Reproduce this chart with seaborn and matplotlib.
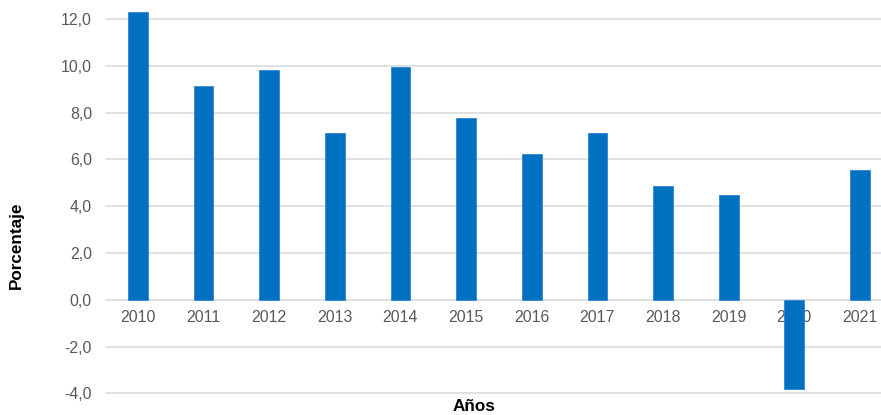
import matplotlib
matplotlib.use("Agg")
import matplotlib.pyplot as plt
import seaborn as sns
import pandas as pd

# Annual growth rate (%) by year
years = ["2010", "2011", "2012", "2013", "2014", "2015",
         "2016", "2017", "2018", "2019", "2020", "2021"]
growth = [12.3, 9.15, 9.81, 7.15, 9.97, 7.77, 6.25, 7.13, 4.87, 4.49, -3.83, 5.55]
y_ticks = [-4, -2, 0, 2, 4, 6, 8, 10, 12]
y_tick_labels = ["-4,0", "-2,0", "0,0", "2,0", "4,0", "6,0", "8,0", "10,0", "12,0"]

df = pd.DataFrame({"Año": years, "Porcentaje": growth})

sns.set_theme(style="white")
plt.rcParams["font.family"] = ["Liberation Sans", "DejaVu Sans"]

W, H, DPI = 881, 415, 100
fig = plt.figure(figsize=(W / DPI, H / DPI), dpi=DPI)
ax = fig.add_axes([105 / W, 0.0, 1 - 105 / W, 1.0])

sns.barplot(data=df, x="Año", y="Porcentaje", color="#0070C0",
            width=0.3, saturation=1, edgecolor="#2E86D1", linewidth=0.6, ax=ax)

ax.set_xlim(-0.5, 11.32)
ax.set_ylim(-4.928, 12.817)
ax.set_yticks(y_ticks)
ax.set_yticklabels(y_tick_labels)
ax.yaxis.grid(True, color="#D9D9D9", linewidth=1.1)
ax.xaxis.grid(False)
ax.set_axisbelow(True)

for s in ax.spines.values():
    s.set_visible(False)
ax.spines["bottom"].set_position(("data", 0))

ax.tick_params(axis="x", length=0, pad=7.7, labelsize=11.4, labelcolor="#595959")
ax.tick_params(axis="y", length=0, pad=9.4, labelsize=11.4, labelcolor="#595959")
ax.set_xlabel("")
ax.set_ylabel("")

fig.text(16 / W, 1 - 245 / H, "Porcentaje", rotation=90, ha="center", va="center",
         fontsize=12.3, fontweight="bold", color="black")
fig.text(474 / W, 1 - 399 / H, "Años", ha="center", va="top",
         fontsize=12.3, fontweight="bold", color="black")

fig.savefig("out.png", dpi=DPI, facecolor="white")
